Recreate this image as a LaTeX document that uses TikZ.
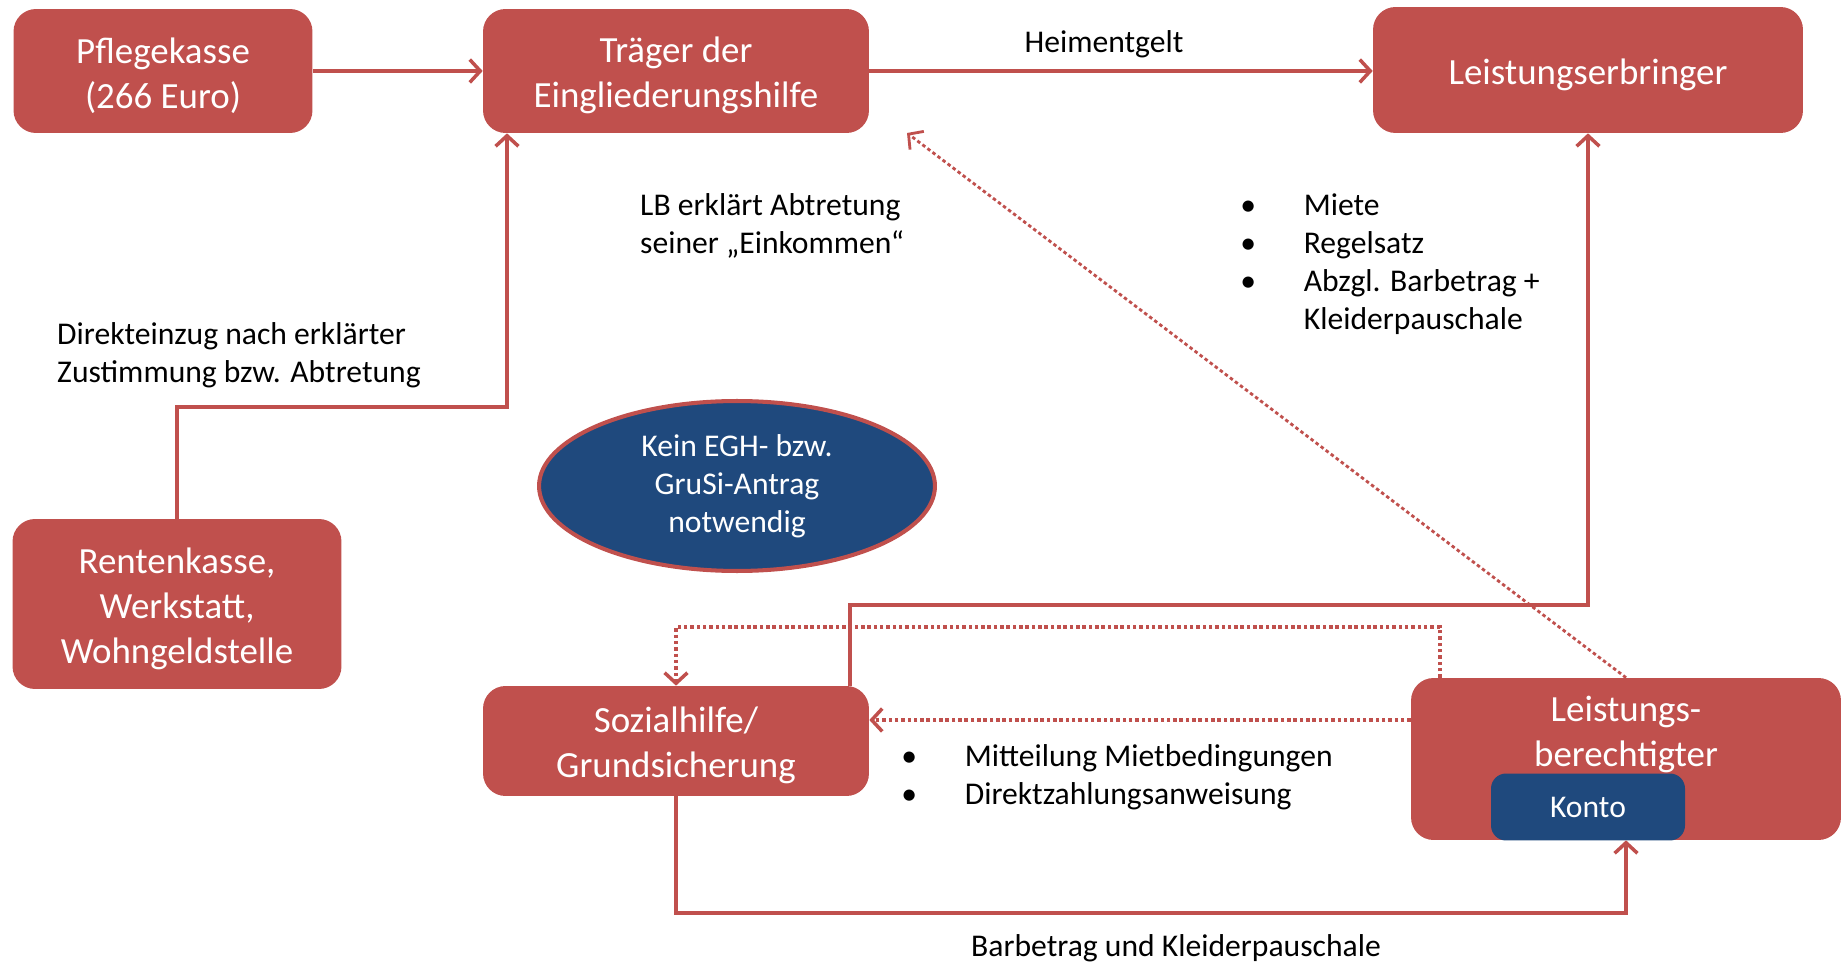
\documentclass[tikz,border=0pt]{standalone}
\usepackage{fontspec}
\setmainfont{Carlito}
\usetikzlibrary{arrows.meta,calc,positioning,shapes.geometric}
\definecolor{BoxRed}{HTML}{C0504D}
\definecolor{DeepBlue}{HTML}{1F497D}
\newcommand{\bul}[1]{\makebox[1.27cm][l]{\textbullet}#1}
\newcommand{\topgap}{\rule{0pt}{20pt}}

\begin{document}
\begin{tikzpicture}[x=0.02cm,y=-0.02cm,every node/.style={font=\fontsize{18}{21.6}\selectfont,text=black},box/.style={fill=BoxRed,rounded corners=0.45cm,text=white,align=center,inner sep=0pt,font=\fontsize{21}{25.6}\selectfont},arrow/.style={-{Straight Barb[length=6pt,width=13pt]},line width=2pt,draw=BoxRed},dotarrow/.style={arrow,dash pattern=on 2pt off 1.6pt}]
\useasboundingbox (0,0) rectangle (1848,962);

\node[box,minimum width=5.98cm,minimum height=2.48cm] (pk) at (163,71) {\topgap Pflegekasse\\(266 Euro)};
\node[box,minimum width=7.72cm,minimum height=2.48cm] (egh) at (676,71) {\topgap Träger der\\Eingliederungshilfe};
\node[box,minimum width=8.6cm,minimum height=2.52cm] (le) at (1588,70) {\topgap Leistungserbringer};
\node[box,minimum width=6.58cm,minimum height=3.4cm] (rk) at (177,604) {\topgap Rentenkasse,\\Werkstatt,\\Wohngeldstelle};
\node[box,minimum width=7.72cm,minimum height=2.2cm] (sh) at (676,741) {\topgap Sozialhilfe/\\Grundsicherung};
\node[box,minimum width=8.6cm,minimum height=3.24cm] (lb) at (1626,759) {};
\node[box,fill=none] (lbtext) at (1626,734) {Leistungs-\\berechtigter};
\node[box,fill=DeepBlue,rounded corners=0.3cm,minimum width=3.88cm,minimum height=1.34cm,font=\fontsize{18}{22}\selectfont] (konto) at (1588,807) {Konto};
\node[ellipse,fill=DeepBlue,draw=BoxRed,line width=2.3pt,minimum width=7.92cm,minimum height=3.4cm,text=white,align=center,inner sep=0pt] (antrag) at (737,486) {Kein EGH- bzw.\\GruSi-Antrag\\notwendig};

% connectors
\coordinate (c1) at (507,407); \coordinate (c2) at (850,605); \coordinate (c3) at (1440,627); \coordinate (c4) at (907,133); \coordinate (c5) at (1626,913);
\draw[arrow] (pk) -- (egh);
\draw[arrow] (egh.east) -- (egh.east -| le.west);
\draw[arrow] (rk.north) |- (c1) -- (c1 |- egh.south);
\draw[arrow] (c2 |- sh.north) -- (c2) -| (le.south);
\draw[dotarrow] (c3 |- lb.north) -- (c3) -| (sh.north);
\draw[dotarrow] ([yshift=0.78cm]lb.west) -- ([yshift=0.78cm]lb.west -| sh.east);
\draw[dotarrow,line width=1.6pt] (lb.north) -- (c4);
\draw[arrow] (sh.south) |- (c5) -- (lb.south);

% labels
\node (heim) at (1104,44) {Heimentgelt};
\node[anchor=west,align=left] (einzug) at (51,355) {Direkteinzug nach erklärter\\Zustimmung bzw. Abtretung};
\node[anchor=west,align=left] (abtret) at (634,226) {LB erklärt Abtretung\\seiner „Einkommen“};
\node[anchor=west,align=left,inner sep=0pt] (posten) at (1240,264) {\bul{Miete}\\\bul{Regelsatz}\\\bul{Abzgl. Barbetrag +}\\\hspace*{1.27cm}Kleiderpauschale};
\node[anchor=west,align=left,inner sep=0pt] (mitteil) at (901,777) {\bul{Mitteilung Mietbedingungen}\\\bul{Direktzahlungsanweisung}};
\node (barbetrag) at (1176,948) {Barbetrag und Kleiderpauschale};

\end{tikzpicture}
\end{document}
